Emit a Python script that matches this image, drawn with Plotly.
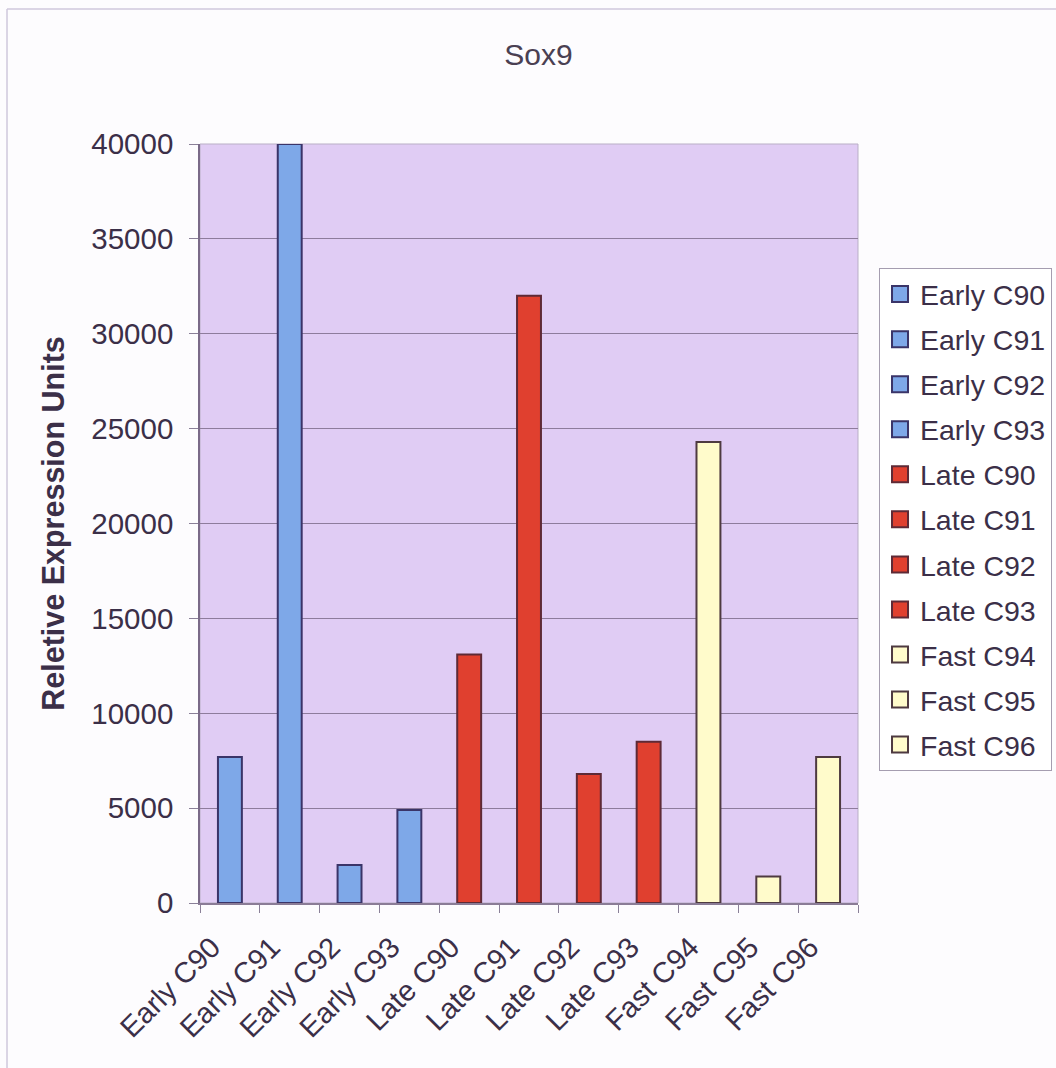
import plotly.graph_objects as go

# Sample labels and expression values for Sox9
samples = ["Early C90", "Early C91", "Early C92", "Early C93",
           "Late C90", "Late C91", "Late C92", "Late C93",
           "Fast C94", "Fast C95", "Fast C96"]
expression = [7700, 40000, 2000, 4900,
              13100, 32000, 6800, 8500,
              24300, 1400, 7700]
groups = ["Early"] * 4 + ["Late"] * 4 + ["Fast"] * 3

y_ticks = [0, 5000, 10000, 15000, 20000, 25000, 30000, 35000, 40000]

fill = {"Early": "#7EA8E8", "Late": "#E0402F", "Fast": "#FFFBCB"}
edge = {"Early": "#3A3468", "Late": "#5E2A36", "Fast": "#4E3A40"}

TEXT = "#3B2F48"
FONT = "Liberation Sans, Arial, sans-serif"

fig = go.Figure()
for name, val, grp in zip(samples, expression, groups):
    fig.add_trace(go.Bar(
        x=[name], y=[val], name=name, width=0.4, showlegend=False,
        legendgroup=name,
        marker=dict(color=fill[grp], line=dict(color=edge[grp], width=2)),
    ))
    # legend swatch: larger square marker than the default bar symbol
    fig.add_trace(go.Scatter(
        x=[None], y=[None], name=name, mode="markers", legendgroup=name,
        marker=dict(symbol="square", size=16, color=fill[grp],
                    line=dict(color=edge[grp], width=2)),
        hoverinfo="skip",
    ))

# Plot-area frame and outer chart frame
fig.add_shape(type="rect", xref="paper", yref="paper", x0=0, x1=1, y0=0, y1=1,
              line=dict(color="#B9AFC6", width=1), layer="below")
fig.add_shape(type="line", xref="paper", yref="paper", x0=-0.2933, x1=-0.2933,
              y0=-0.3, y1=1.1779, line=dict(color="#CFC8DC", width=1.5))
fig.add_shape(type="line", xref="paper", yref="paper", x0=-0.2933, x1=1.4,
              y0=1.1779, y1=1.1779, line=dict(color="#CFC8DC", width=1.5))

fig.update_layout(
    width=1056, height=1068,
    margin=dict(l=200, r=198, t=144, b=165, autoexpand=False),
    paper_bgcolor="#FDFCFE",
    plot_bgcolor="#E0CCF4",
    barmode="overlay",
    font=dict(family=FONT, color=TEXT, size=28),
    title=dict(text="Sox9", x=0.51, xanchor="center", y=0.949, yanchor="middle",
               font=dict(size=30, color="#4A4052", family=FONT)),
    showlegend=True,
    legend=dict(xref="container", yref="container",
                x=0.8324, y=0.749, xanchor="left", yanchor="top",
                bgcolor="#FFFFFF", bordercolor="#A59DB0", borderwidth=1,
                font=dict(size=28.5, color=TEXT, family=FONT),
                traceorder="grouped", tracegroupgap=5,
                itemsizing="trace"),
    xaxis=dict(
        type="category", categoryorder="array", categoryarray=samples,
        tickangle=-45, ticks="outside", ticklen=8, tickwidth=1,
        tickcolor="#8A8098", tickson="boundaries",
        ticklabelstandoff=14, ticklabelshift=-18,
        showline=True, linecolor="#8A7C96", linewidth=1.5,
        showgrid=False, tickfont=dict(size=29, color=TEXT, family=FONT),
    ),
    yaxis=dict(
        range=[0, 40000], tickvals=y_ticks, ticktext=[str(v) for v in y_ticks],
        ticks="outside", ticklen=9, tickwidth=1, tickcolor="#8A8098",
        ticklabelstandoff=10,
        showline=True, linecolor="#7A6A88", linewidth=1.5,
        showgrid=True, gridcolor="#8E7C9C", gridwidth=1,
        zeroline=False,
        tickfont=dict(size=29.5, color=TEXT, family=FONT),
        title=dict(text="<b>Reletive Expression Units</b>", standoff=18,
                   font=dict(size=30.5, color=TEXT, family=FONT)),
    ),
)

fig.write_html("out.html")
